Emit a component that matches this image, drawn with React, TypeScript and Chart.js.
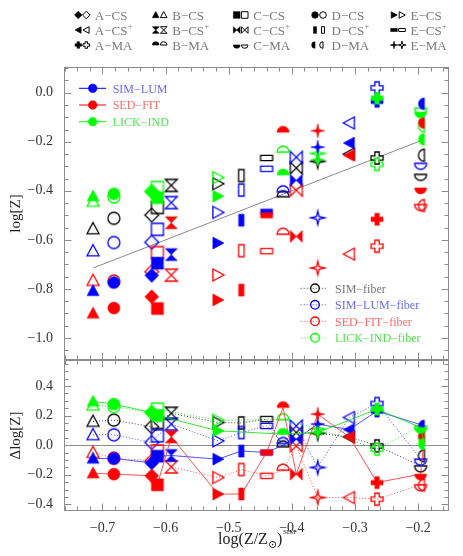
import React, { useEffect, useRef } from 'react';
import { Chart, registerables } from 'chart.js';

Chart.register(...registerables);

// ---------------- data ----------------
const GALAXIES = ['B-CS', 'D-CS', 'A-CS', 'C-CS', 'B-CS+', 'E-CS', 'D-CS+', 'E-CS+', 'B-MA', 'C-CS+', 'E-MA', 'A-CS+', 'A-MA', 'C-MA', 'D-MA'];
const X_SIM = [-0.715, -0.682, -0.622, -0.613, -0.591, -0.517, -0.48, -0.44, -0.414, -0.393, -0.359, -0.309, -0.265, -0.196, -0.19];

// top panel: log[Z]
const SIM_LUM = [-0.808, -0.774, -0.745, -0.695, -0.66, -0.613, -0.52, -0.485, null, -0.357, -0.222, -0.205, -0.035, null, -0.045];
const SED_FIT = [-0.9, -0.878, -0.832, -0.88, -0.53, -0.845, -0.805, -0.5, -0.161, -0.586, -0.155, -0.255, -0.516, -0.388, -0.122];
const LICK_IND = [-0.422, -0.412, -0.405, -0.428, null, -0.422, null, null, -0.335, null, -0.273, null, -0.022, -0.079, -0.19];
const SIM_FIBER = [-0.555, -0.512, -0.499, -0.468, -0.378, -0.371, -0.338, -0.266, -0.424, -0.307, -0.28, -0.25, -0.266, -0.333, -0.255];
const SIM_LUM_FIBER = [-0.645, -0.611, -0.61, -0.557, -0.448, -0.488, -0.397, -0.31, -0.404, -0.263, -0.51, -0.123, 0.02, -0.288, null];
const SED_FIT_FIBER = [-0.766, -0.768, -0.73, -0.652, -0.744, -0.743, -0.644, -0.646, -0.577, -0.398, -0.715, -0.658, -0.626, -0.456, -0.46];
const LICK_IND_FIBER = [-0.443, -0.425, -0.402, -0.386, null, -0.346, null, null, -0.242, null, -0.248, null, -0.292, -0.063, -0.135];

// bottom panel: Δlog[Z]
const D_SIM_LUM = [-0.09, -0.09, -0.12, -0.075, -0.07, -0.095, -0.04, -0.05, null, 0.04, 0.142, 0.105, 0.23, null, 0.13];
const D_SED_FIT = [-0.19, -0.196, -0.207, -0.268, 0.056, -0.331, -0.33, -0.05, 0.254, -0.196, 0.209, 0.056, -0.253, -0.196, 0.063];
const D_LICK_IND = [0.295, 0.277, 0.22, 0.2, null, 0.097, null, null, 0.074, null, 0.085, null, 0.243, 0.119, 0.007];
const D_SIM_FIBER = [0.16, 0.169, 0.124, 0.153, 0.215, 0.153, 0.15, 0.176, -0.011, 0.085, 0.08, 0.056, -0.005, -0.14, -0.072];
const D_SIM_LUM_FIBER = [0.07, 0.07, 0.018, 0.063, 0.142, 0.029, 0.085, 0.13, 0.011, 0.13, -0.151, 0.187, 0.281, -0.095, null];
const D_SED_FIT_FIBER = [-0.05, -0.088, -0.106, -0.04, -0.147, -0.219, -0.165, -0.207, -0.169, -0.005, -0.354, -0.354, -0.365, -0.268, -0.27];
const D_LICK_IND_FIBER = [0.27, 0.26, 0.22, 0.243, null, 0.168, null, null, 0.172, null, 0.11, null, -0.027, 0.13, 0.05];

const X_TICKS = [-0.7, -0.6, -0.5, -0.4, -0.3, -0.2];
const Y_TOP_TICKS = [0, -0.2, -0.4, -0.6, -0.8, -1.0];
const Y_BOT_TICKS = [0.4, 0.2, 0, -0.2, -0.4];

const LEGEND_ROWS = [
  ['A-CS', 'B-CS', 'C-CS', 'D-CS', 'E-CS'],
  ['A-CS+', 'B-CS+', 'C-CS+', 'D-CS+', 'E-CS+'],
  ['A-MA', 'B-MA', 'C-MA', 'D-MA', 'E-MA'],
];

// ---------------- styles ----------------
const FONT = '"Liberation Serif", "DejaVu Serif", serif';
const FRAME = '#8c8c8c';
const SHAPE_OF: Record<string, string> = {
  'A-CS': 'diamond', 'B-CS': 'triangle', 'C-CS': 'square', 'D-CS': 'circle', 'E-CS': 'rtri',
  'A-CS+': 'ltri', 'B-CS+': 'hourglass', 'C-CS+': 'bowtie', 'D-CS+': 'vrect', 'E-CS+': 'hrect',
  'A-MA': 'plus', 'B-MA': 'cap', 'C-MA': 'cup', 'D-MA': 'halfl', 'E-MA': 'star',
};

function tracePath(ctx: CanvasRenderingContext2D, shape: string, r: number) {
  ctx.beginPath();
  const poly = (pts: number[][]) => {
    pts.forEach((p, i) => (i === 0 ? ctx.moveTo(p[0], p[1]) : ctx.lineTo(p[0], p[1])));
    ctx.closePath();
  };
  switch (shape) {
    case 'diamond': { const d = r * 1.15; poly([[0, -d], [d, 0], [0, d], [-d, 0]]); break; }
    case 'triangle': poly([[0, -r * 1.05], [r, r * 0.8], [-r, r * 0.8]]); break;
    case 'square': ctx.rect(-r, -r, 2 * r, 2 * r); break;
    case 'circle': ctx.arc(0, 0, r, 0, Math.PI * 2); break;
    case 'rtri': poly([[-r * 0.85, -r], [r, 0], [-r * 0.85, r]]); break;
    case 'ltri': poly([[r * 0.85, -r], [-r, 0], [r * 0.85, r]]); break;
    case 'hourglass': poly([[-r, -r], [r, -r], [-r, r], [r, r]]); break;
    case 'bowtie': poly([[-r, -r], [-r, r], [r, -r], [r, r]]); break;
    case 'vrect': ctx.rect(-r * 0.45, -r, r * 0.9, 2 * r); break;
    case 'hrect': ctx.rect(-r, -r * 0.45, 2 * r, r * 0.9); break;
    case 'plus': {
      const a = r * 0.36;
      poly([[-a, -r], [a, -r], [a, -a], [r, -a], [r, a], [a, a], [a, r], [-a, r], [-a, a], [-r, a], [-r, -a], [-a, -a]]);
      break;
    }
    case 'cap': ctx.arc(0, 0, r, Math.PI, Math.PI * 2); ctx.closePath(); break;
    case 'cup': ctx.arc(0, 0, r, 0, Math.PI); ctx.closePath(); break;
    case 'halfl': ctx.arc(0, 0, r, Math.PI / 2, Math.PI * 1.5); ctx.closePath(); break;
    case 'star': {
      const R = r * 1.15, q = r * 0.3;
      const pts: number[][] = [];
      for (let k = 0; k < 8; k++) {
        const ang = -Math.PI / 2 + (k * Math.PI) / 4;
        const rad = k % 2 === 0 ? R : q;
        pts.push([Math.cos(ang) * rad, Math.sin(ang) * rad]);
      }
      poly(pts);
      break;
    }
    default: ctx.arc(0, 0, r, 0, Math.PI * 2);
  }
}

function paintShape(ctx: CanvasRenderingContext2D, shape: string, cx: number, cy: number, r: number, color: string, filled: boolean, lw: number) {
  ctx.save();
  ctx.translate(cx, cy);
  tracePath(ctx, shape, r);
  ctx.lineJoin = 'miter';
  if (filled) {
    ctx.fillStyle = color;
    ctx.fill();
    ctx.strokeStyle = color;
    ctx.lineWidth = 0.6;
    ctx.stroke();
  } else {
    ctx.strokeStyle = color;
    ctx.lineWidth = lw;
    ctx.stroke();
  }
  ctx.restore();
}

const markerCache: Record<string, HTMLCanvasElement> = {};
function marker(shape: string, color: string, filled: boolean, r: number) {
  const key = `${shape}|${color}|${filled}|${r}`;
  if (markerCache[key]) return markerCache[key];
  const s = 2 * Math.ceil(r * 1.25 + 2);
  const c = document.createElement('canvas');
  c.width = s;
  c.height = s;
  const ctx = c.getContext('2d') as CanvasRenderingContext2D;
  paintShape(ctx, shape, s / 2, s / 2, r, color, filled, 1.3);
  markerCache[key] = c;
  return c;
}

function fmtTick(v: number) {
  return (v < -1e-9 ? '\u2212' : '') + Math.abs(v).toFixed(1);
}

function pointsOf(ys: (number | null)[]) {
  const out: { x: number; y: number; g: number }[] = [];
  ys.forEach((y, i) => {
    if (y !== null) out.push({ x: X_SIM[i], y, g: i });
  });
  return out;
}

const METHODS = [
  { top: LICK_IND, bot: D_LICK_IND, color: '#00ff00', line: 'rgba(0,225,0,0.8)', filled: true },
  { top: SED_FIT, bot: D_SED_FIT, color: '#ff0000', line: 'rgba(255,40,40,0.8)', filled: true },
  { top: SIM_LUM, bot: D_SIM_LUM, color: '#0000ff', line: 'rgba(40,40,255,0.8)', filled: true },
  { top: LICK_IND_FIBER, bot: D_LICK_IND_FIBER, color: '#00ff00', line: 'rgba(0,225,0,0.8)', filled: false },
  { top: SED_FIT_FIBER, bot: D_SED_FIT_FIBER, color: '#ff0000', line: 'rgba(255,40,40,0.8)', filled: false },
  { top: SIM_LUM_FIBER, bot: D_SIM_LUM_FIBER, color: '#0000ff', line: 'rgba(40,40,255,0.8)', filled: false },
  { top: SIM_FIBER, bot: D_SIM_FIBER, color: '#000000', line: 'rgba(0,0,0,0.75)', filled: false },
];

const LEGEND_FILLED = [
  { text: 'SIM\u2212LUM', color: '#0000ff', textColor: '#6a6aff' },
  { text: 'SED\u2212FIT', color: '#ff0000', textColor: '#ff6a6a' },
  { text: 'LICK\u2212IND', color: '#00ff00', textColor: '#50e650' },
];
const LEGEND_FIBER = [
  { text: 'SIM\u2212fiber', color: '#000000', textColor: '#777777' },
  { text: 'SIM\u2212LUM\u2212fiber', color: '#0000ff', textColor: '#6a6aff' },
  { text: 'SED\u2212FIT\u2212fiber', color: '#ff0000', textColor: '#ff6a6a' },
  { text: 'LICK\u2212IND\u2212fiber', color: '#00ff00', textColor: '#50e650' },
];

function line(ctx: CanvasRenderingContext2D, x1: number, y1: number, x2: number, y2: number) {
  ctx.beginPath();
  ctx.moveTo(x1, y1);
  ctx.lineTo(x2, y2);
  ctx.stroke();
}

const decorPlugin = {
  id: 'decor',
  beforeDatasetsDraw(chart: any) {
    const { ctx, chartArea: ca, scales } = chart;
    const xs = scales.x;
    ctx.save();
    ctx.strokeStyle = FRAME;
    ctx.lineWidth = 1;
    const yb = scales.yBot;
    const y0 = Math.round(yb.getPixelForValue(0)) + 0.5;
    line(ctx, ca.left, y0, ca.right, y0);
    const L = Math.round(ca.left) + 0.5;
    const R = Math.round(ca.right) - 0.5;
    for (const ys of [scales.yTop, scales.yBot]) {
      const top = Math.round(ys.top) + 0.5;
      const bot = Math.round(ys.bottom) - 0.5;
      ctx.strokeRect(L, top, R - L, bot - top);
      for (let k = Math.ceil(xs.min / 0.02 - 1e-6); k * 0.02 <= xs.max + 1e-9; k++) {
        const v = k * 0.02;
        const major = Math.abs(v * 10 - Math.round(v * 10)) < 1e-6;
        const len = major ? 7 : 4;
        const px = Math.round(xs.getPixelForValue(v)) + 0.5;
        line(ctx, px, top, px, top + len);
        line(ctx, px, bot, px, bot - len);
      }
      for (let k = Math.ceil(ys.min / 0.05 - 1e-6); k * 0.05 <= ys.max + 1e-9; k++) {
        const v = k * 0.05;
        const major = Math.abs(v * 5 - Math.round(v * 5)) < 1e-6;
        const len = major ? 7 : 4;
        const py = Math.round(ys.getPixelForValue(v)) + 0.5;
        line(ctx, L, py, L + len, py);
        line(ctx, R, py, R - len, py);
      }
    }
    ctx.restore();
  },
  afterDraw(chart: any) {
    const { ctx, chartArea: ca } = chart;
    ctx.save();
    // top symbol legend
    const colX = [78.3, 155.7, 236.7, 315, 394];
    const rowY = [15, 30, 45];
    LEGEND_ROWS.forEach((row, ri) => {
      row.forEach((g, ci) => {
        const shape = SHAPE_OF[g];
        const bx = colX[ci];
        const by = rowY[ri];
        paintShape(ctx, shape, bx, by, 3.3, '#000', true, 1);
        paintShape(ctx, shape, bx + 8, by, 3.3, '#000', false, 1);
        const plus = g.endsWith('+');
        const base = (plus ? g.slice(0, -1) : g).replace('-', '\u2212');
        ctx.fillStyle = '#7a7a7a';
        ctx.font = `13px ${FONT}`;
        ctx.textAlign = 'left';
        ctx.textBaseline = 'alphabetic';
        ctx.fillText(base, bx + 16.5, by + 4.5);
        if (plus) {
          const w = ctx.measureText(base).width;
          ctx.font = `8px ${FONT}`;
          ctx.fillText('+', bx + 16.5 + w + 0.5, by - 1);
        }
      });
    });
    // filled-symbol legend (upper left of top panel)
    LEGEND_FILLED.forEach((it, i) => {
      const y = 88.3 + i * 16.7;
      ctx.strokeStyle = it.color;
      ctx.lineWidth = 1;
      line(ctx, 79, y, 106, y);
      paintShape(ctx, 'circle', 92.7, y, 4.3, it.color, true, 1);
      ctx.fillStyle = it.textColor;
      ctx.font = `12px ${FONT}`;
      ctx.textAlign = 'left';
      ctx.fillText(it.text, 112.7, y + 4.3);
    });
    // fiber legend (lower right of top panel)
    LEGEND_FIBER.forEach((it, i) => {
      const y = 288.3 + i * 16.5;
      ctx.save();
      ctx.strokeStyle = it.color;
      ctx.globalAlpha = 0.75;
      ctx.lineWidth = 1;
      ctx.setLineDash([1, 2]);
      line(ctx, 300.7, y, 327.3, y);
      ctx.restore();
      paintShape(ctx, 'circle', 315, y, 4.3, it.color, false, 1.3);
      ctx.fillStyle = it.textColor;
      ctx.font = `12px ${FONT}`;
      ctx.textAlign = 'left';
      ctx.fillText(it.text, 335, y + 4.3);
    });
    // x axis title: log(Z/Z_sun)^SIM
    const parts = [
      { t: 'log(Z/Z', size: 16, dy: 0 },
      { t: '\u2299', size: 11, dy: 4 },
      { t: ')', size: 16, dy: 0 },
      { t: 'SIM', size: 7, dy: -10 },
    ];
    let total = 0;
    const widths = parts.map((p) => {
      ctx.font = `${p.size}px ${FONT}`;
      const w = ctx.measureText(p.t).width;
      total += w;
      return w;
    });
    let x = (ca.left + ca.right) / 2 - total / 2;
    const base = 544;
    ctx.fillStyle = '#222';
    ctx.textAlign = 'left';
    parts.forEach((p, i) => {
      ctx.font = `${p.size}px ${FONT}`;
      ctx.fillText(p.t, x, base + p.dy);
      x += widths[i] + (i === 2 ? 0.5 : 0);
    });
    ctx.restore();
  },
};

export default function App() {
  const ref = useRef<HTMLCanvasElement | null>(null);
  useEffect(() => {
    if (!ref.current) return;
    Chart.defaults.font.family = FONT;
    const datasets: any[] = [];
    METHODS.forEach((m) => {
      const pts = pointsOf(m.top);
      datasets.push({
        type: 'scatter',
        data: pts,
        xAxisID: 'x',
        yAxisID: 'yTop',
        showLine: false,
        pointRadius: 6,
        pointStyle: pts.map((p) => marker(SHAPE_OF[GALAXIES[p.g]], m.color, m.filled, 6)),
      });
    });
    METHODS.forEach((m) => {
      const pts = pointsOf(m.bot);
      datasets.push({
        type: 'line',
        data: pts,
        xAxisID: 'x',
        yAxisID: 'yBot',
        borderColor: m.line,
        borderWidth: 1,
        borderDash: m.filled ? [] : [1, 2],
        tension: 0,
        fill: false,
        pointRadius: 6,
        pointStyle: pts.map((p) => marker(SHAPE_OF[GALAXIES[p.g]], m.color, m.filled, 6)),
      });
    });
    const xMin = Math.min(...X_SIM);
    const xMax = Math.max(...X_SIM);
    datasets.push({
      type: 'line',
      data: [{ x: xMin, y: xMin }, { x: xMax, y: xMax }],
      xAxisID: 'x',
      yAxisID: 'yTop',
      borderColor: '#8a8a8a',
      borderWidth: 1,
      pointRadius: 0,
      fill: false,
    });

    const tickFont = { family: FONT, size: 14 };
    const chart = new Chart(ref.current, {
      type: 'scatter',
      data: { datasets },
      options: {
        animation: false,
        responsive: false,
        devicePixelRatio: 1,
        events: [],
        layout: { padding: { top: 67, right: 14, bottom: 0, left: 0 } },
        plugins: { legend: { display: false }, tooltip: { enabled: false } },
        scales: {
          x: {
            type: 'linear',
            position: 'bottom',
            min: -0.761,
            max: -0.151,
            grid: { display: false, drawTicks: false },
            border: { display: false },
            ticks: { padding: 9, font: tickFont, color: '#333', autoSkip: false, maxRotation: 0, callback: (v: any) => fmtTick(Number(v)) },
            afterBuildTicks: (a: any) => { a.ticks = X_TICKS.map((value) => ({ value })); },
            afterFit: (a: any) => { a.height = 45; },
          },
          yTop: {
            type: 'linear',
            position: 'left',
            stack: 'panels',
            stackWeight: 293,
            weight: 1,
            min: -1.09,
            max: 0.105,
            grid: { display: false, drawTicks: false },
            border: { display: false },
            ticks: { padding: 11, font: tickFont, color: '#333', callback: (v: any) => fmtTick(Number(v)) },
            title: { display: true, text: 'log[Z]', font: { family: FONT, size: 15 }, color: '#222', padding: { top: 7, bottom: 0 } },
            afterBuildTicks: (a: any) => { a.ticks = Y_TOP_TICKS.map((value) => ({ value })); },
            afterFit: (a: any) => { a.width = 64; },
          },
          yBot: {
            type: 'linear',
            position: 'left',
            stack: 'panels',
            stackWeight: 151,
            weight: 0,
            min: -0.445,
            max: 0.575,
            grid: { display: false, drawTicks: false },
            border: { display: false },
            ticks: { padding: 11, font: tickFont, color: '#333', callback: (v: any) => fmtTick(Number(v)) },
            title: { display: true, text: '\u0394log[Z]', font: { family: FONT, size: 15 }, color: '#222', padding: { top: 7, bottom: 0 } },
            afterBuildTicks: (a: any) => { a.ticks = Y_BOT_TICKS.map((value) => ({ value })); },
            afterFit: (a: any) => { a.width = 64; },
          },
        },
      } as any,
      plugins: [decorPlugin as any],
    });
    return () => chart.destroy();
  }, []);
  return (
    <canvas
      ref={ref}
      width={463}
      height={556}
      style={{ position: 'fixed', left: 0, top: 0, width: 463, height: 556, display: 'block' }}
    />
  );
}
